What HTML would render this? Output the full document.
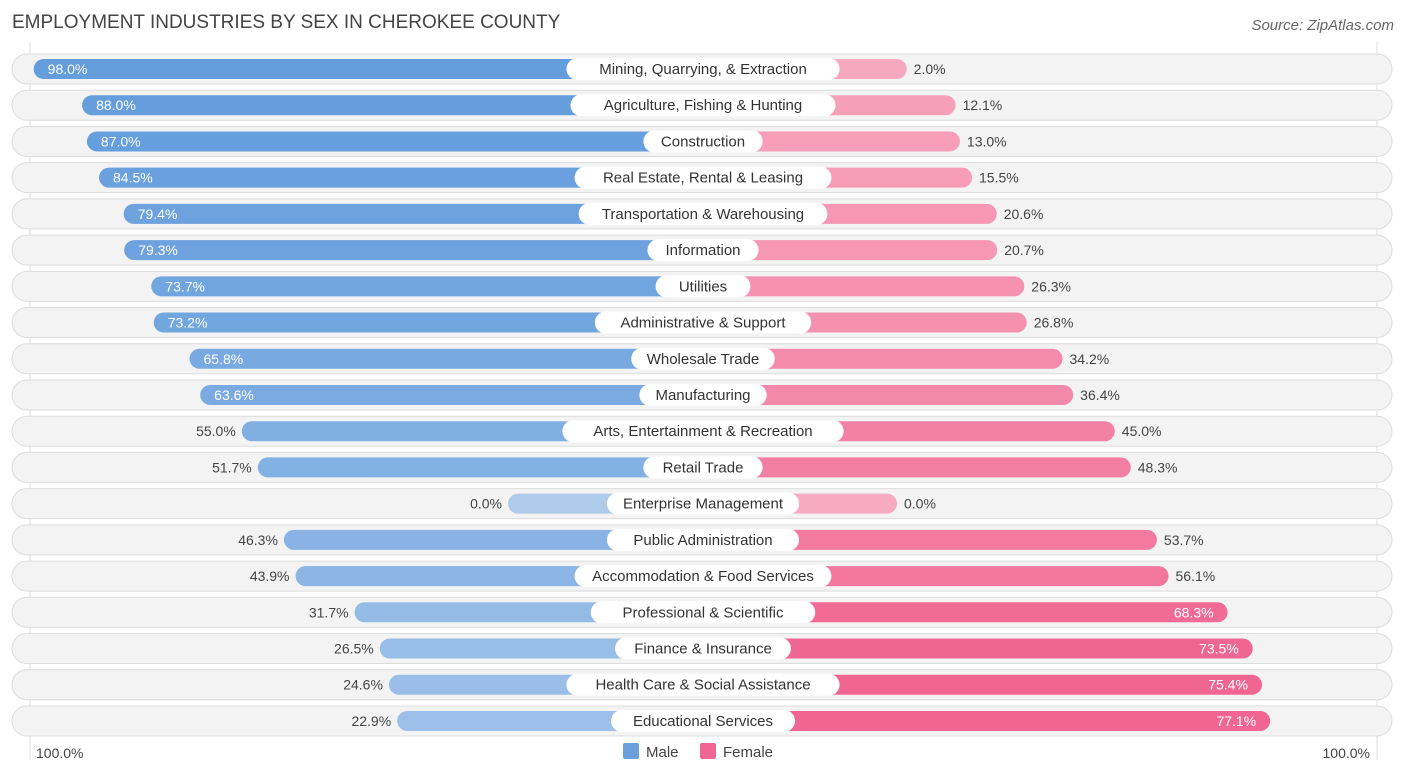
<!DOCTYPE html>
<html><head><meta charset="utf-8"><style>
body{margin:0;background:#fff;font-family:"Liberation Sans",Roboto,sans-serif;}
svg text{font-family:"Liberation Sans",sans-serif;}
</style></head><body>
<svg id="c" width="1406" height="776" xmlns="http://www.w3.org/2000/svg">
<text x="12" y="28" font-size="19" fill="#444">EMPLOYMENT INDUSTRIES BY SEX IN CHEROKEE COUNTY</text>
<text x="1394" y="30" font-size="15" fill="#666" font-style="italic" text-anchor="end">Source: ZipAtlas.com</text>
<line x1="30" y1="42" x2="30" y2="760" stroke="#ddd"/>
<line x1="1377" y1="42" x2="1377" y2="760" stroke="#ddd"/>
<g id="rows"></g>
<text x="36" y="758" font-size="14" fill="#444">100.0%</text>
<text x="1370" y="758" font-size="14" fill="#444" text-anchor="end">100.0%</text>
<rect x="623" y="743" width="16" height="16" rx="2" fill="#6a9fdc"/>
<text x="646" y="757" font-size="15" fill="#444">Male</text>
<rect x="700" y="743" width="16" height="16" rx="2" fill="#f06592"/>
<text x="723" y="757" font-size="15" fill="#444">Female</text>
</svg>
<script>
const categories=["Mining, Quarrying, & Extraction","Agriculture, Fishing & Hunting","Construction","Real Estate, Rental & Leasing","Transportation & Warehousing","Information","Utilities","Administrative & Support","Wholesale Trade","Manufacturing","Arts, Entertainment & Recreation","Retail Trade","Enterprise Management","Public Administration","Accommodation & Food Services","Professional & Scientific","Finance & Insurance","Health Care & Social Assistance","Educational Services"];
const maleValues=[98.0,88.0,87.0,84.5,79.4,79.3,73.7,73.2,65.8,63.6,55.0,51.7,0.0,46.3,43.9,31.7,26.5,24.6,22.9];
const femaleValues=[2.0,12.1,13.0,15.5,20.6,20.7,26.3,26.8,34.2,36.4,45.0,48.3,0.0,53.7,56.1,68.3,73.5,75.4,77.1];
const NS="http://www.w3.org/2000/svg";
const g=document.getElementById('rows');
const CX=703, MZ=508, FZ=897, S=4.84;
const xMale=v=>MZ-S*v, xFemale=v=>FZ+S*v;
const rowY=i=>69+i*36.22;
function mk(t,a,p){const e=document.createElementNS(NS,t);for(const k in a)e.setAttribute(k,a[k]);p.appendChild(e);return e;}
function mix(a,b,t){return 'rgb('+a.map((x,i)=>Math.round(x+(b[i]-x)*t)).join(',')+')';}
categories.forEach((c,i)=>{
 const y=rowY(i), m=maleValues[i], f=femaleValues[i];
 const bg=mk('rect',{x:12,y:y-15,width:1380,height:30,rx:15,fill:'#f3f3f3',stroke:'#dcdcdc'},g);
 
 
 const mx=xMale(m);
 const mb=mk('rect',{x:mx,y:y-10,width:CX-mx,height:20,rx:10,fill:mix([174,203,236],[100,157,220],Math.min(1,m/90))},g);
 
 
 const fx=xFemale(f);
 const fb=mk('rect',{x:CX,y:y-10,width:fx-CX,height:20,rx:10,fill:mix([247,170,194],[240,101,146],Math.min(1,f/75))},g);
 
 
 const inM=m>60, inF=f>60;
 const mt=mk('text',{x:inM?mx+14:mx-6,y:y+5,'font-size':14,fill:inM?'#fff':'#444','text-anchor':inM?'start':'end'},g);
 mt.textContent=m.toFixed(1)+'%';
 
 
 const ft=mk('text',{x:inF?fx-14:fx+7,y:y+5,'font-size':14,fill:inF?'#fff':'#444','text-anchor':inF?'end':'start'},g);
 ft.textContent=f.toFixed(1)+'%';
 
 
 const w=c.length*8.1+22;
 const lp=mk('rect',{x:CX-w/2,y:y-11,width:w,height:22,rx:11,fill:'#fff'},g);
 
 
 const lt=mk('text',{x:CX,y:y+5,'font-size':15,fill:'#333','text-anchor':'middle'},g);
 lt.textContent=c;
 
 
});
</script>
</body></html>
